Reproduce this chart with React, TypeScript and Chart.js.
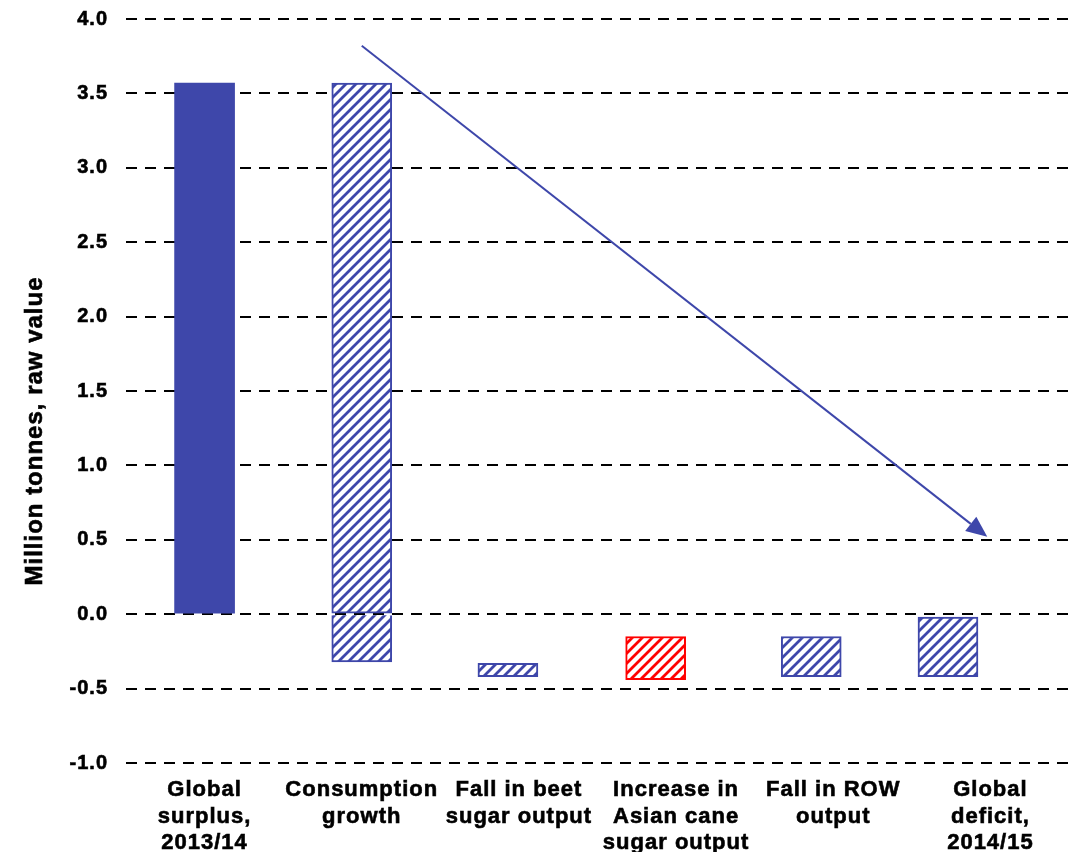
import React, { useEffect, useRef } from 'react';
import { Chart, registerables } from 'chart.js';

Chart.register(...registerables);

// ---- data ----
const categories: string[][] = [
  ['Global', 'surplus,', '2013/14'],
  ['Consumption', 'growth'],
  ['Fall in beet', 'sugar output'],
  ['Increase in', 'Asian cane', 'sugar output'],
  ['Fall in ROW', 'output'],
  ['Global', 'deficit,', '2014/15'],
];
// where each bar sits along the category axis (category index units)
const barPositions = [0, 1, 1.93, 2.87, 3.86, 4.73];
const barLows = [0, 0, -0.42, -0.44, -0.42, -0.42];
const barHighs = [3.57, 3.57, -0.33, -0.15, -0.15, -0.02];
const consumptionBelowZero = [-0.32, 0];
const yMin = -1.0;
const yMax = 4.0;
const yStep = 0.5;
const yTitle = 'Million tonnes, raw value';
const arrowFrom = { x: 1.0, y: 3.82 };
const arrowTo = { x: 4.98, y: 0.52 };

// ---- styles ----
const BLUE = '#3E47AA';
const RED = '#FF0000';
const FONT = 'Arial, "Liberation Sans", Helvetica, sans-serif';

function hatch(color: string): CanvasPattern | string {
  const c = document.createElement('canvas');
  c.width = 10;
  c.height = 10;
  const g = c.getContext('2d');
  if (!g) return color;
  g.fillStyle = '#ffffff';
  g.fillRect(0, 0, 10, 10);
  g.strokeStyle = color;
  g.lineWidth = 2.8;
  g.beginPath();
  g.moveTo(-2, 12);
  g.lineTo(12, -2);
  g.moveTo(-2, 2);
  g.lineTo(2, -2);
  g.moveTo(8, 12);
  g.lineTo(12, 8);
  g.stroke();
  return g.createPattern(c, 'repeat') || color;
}

export default function App() {
  const ref = useRef<HTMLCanvasElement | null>(null);

  useEffect(() => {
    document.body.style.margin = '0';
    const canvas = ref.current;
    if (!canvas) return;

    const blueHatch = hatch(BLUE);
    const redHatch = hatch(RED);
    const fills = [BLUE, blueHatch, blueHatch, redHatch, blueHatch, blueHatch];
    const borders = [BLUE, BLUE, BLUE, RED, BLUE, BLUE];
    const borderWidths = [0, 2, 2, 2, 2, 2];

    const spacingPlugin = {
      id: 'spacing',
      beforeDraw(chart: any) {
        chart.ctx.letterSpacing = '1px';
      },
      afterDraw(chart: any) {
        chart.ctx.letterSpacing = '0px';
      },
    };

    const titlePlugin = {
      id: 'ytitle',
      afterDraw(chart: any) {
        const { ctx, chartArea } = chart;
        ctx.save();
        ctx.letterSpacing = '1px';
        ctx.translate(35, (chartArea.top + chartArea.bottom) / 2 + 40);
        ctx.rotate(-Math.PI / 2);
        ctx.font = `bold 24px ${FONT}`;
        ctx.fillStyle = '#000';
        ctx.strokeStyle = '#000';
        ctx.lineWidth = 0.6;
        ctx.textAlign = 'center';
        ctx.textBaseline = 'middle';
        ctx.strokeText(yTitle, 0, 0);
        ctx.fillText(yTitle, 0, 0);
        ctx.restore();
      },
    };

    const arrowPlugin = {
      id: 'arrow',
      afterDatasetsDraw(chart: any) {
        const { ctx } = chart;
        const xs = chart.scales.x;
        const ys = chart.scales.y;
        const x1 = xs.getPixelForValue(arrowFrom.x);
        const y1 = ys.getPixelForValue(arrowFrom.y);
        const x2 = xs.getPixelForValue(arrowTo.x);
        const y2 = ys.getPixelForValue(arrowTo.y);
        const ang = Math.atan2(y2 - y1, x2 - x1);
        const headLen = 21;
        const headHalf = 9;
        const bx = x2 - headLen * Math.cos(ang);
        const by = y2 - headLen * Math.sin(ang);
        ctx.save();
        ctx.strokeStyle = BLUE;
        ctx.fillStyle = BLUE;
        ctx.lineWidth = 2;
        ctx.beginPath();
        ctx.moveTo(x1, y1);
        ctx.lineTo(bx, by);
        ctx.stroke();
        ctx.beginPath();
        ctx.moveTo(x2, y2);
        ctx.lineTo(bx + headHalf * Math.sin(ang), by - headHalf * Math.cos(ang));
        ctx.lineTo(bx - headHalf * Math.sin(ang), by + headHalf * Math.cos(ang));
        ctx.closePath();
        ctx.fill();
        ctx.restore();
      },
    };

    const chart = new Chart(canvas, {
      type: 'bar',
      data: {
        labels: categories as any,
        datasets: [
          {
            data: barPositions.map((x, i) => ({ x, y: [barLows[i], barHighs[i]] })) as any,
            backgroundColor: fills as any,
            borderColor: borders,
            borderWidth: borderWidths,
            borderSkipped: false,
            barThickness: 60,
            grouped: false,
            xAxisID: 'x',
            yAxisID: 'y',
          } as any,
          {
            data: [{ x: barPositions[1], y: consumptionBelowZero }] as any,
            backgroundColor: blueHatch as any,
            borderColor: BLUE,
            borderWidth: { top: 0, left: 2, right: 2, bottom: 2 },
            borderSkipped: false,
            barThickness: 60,
            grouped: false,
            xAxisID: 'x',
            yAxisID: 'y',
          } as any,
        ],
      },
      options: {
        responsive: false,
        animation: false,
        devicePixelRatio: 1,
        layout: { padding: { top: 19, left: 0, right: 0, bottom: 0 } },
        plugins: {
          legend: { display: false },
          tooltip: { enabled: false },
        },
        scales: {
          x: {
            type: 'linear',
            display: false,
            offset: false,
            grid: { offset: false },
            min: -0.5,
            max: 5.5,
          },
          xl: {
            type: 'category',
            position: 'bottom',
            offset: true,
            grid: { display: false, drawTicks: false },
            border: { display: false },
            ticks: {
              color: '#000',
              textStrokeColor: '#000',
              textStrokeWidth: 0.6,
              autoSkip: false,
              maxRotation: 0,
              minRotation: 0,
              padding: 14,
              font: { family: FONT, size: 22, weight: 'bold', lineHeight: 1.2 },
            },
            afterFit: (s: any) => {
              s.height = 89;
            },
          } as any,
          y: {
            type: 'linear',
            min: yMin,
            max: yMax,
            grid: { color: '#000', lineWidth: 2, drawTicks: false },
            border: { display: false, dash: [11, 8] },
            ticks: {
              stepSize: yStep,
              color: '#000',
              textStrokeColor: '#000',
              textStrokeWidth: 0.6,
              padding: 18,
              font: { family: FONT, size: 20, weight: 'bold' },
              callback: (v: any) => Number(v).toFixed(1),
            },
            afterFit: (s: any) => {
              s.width = 126;
              s.paddingTop = 0;
              s.paddingBottom = 0;
            },
          } as any,
        },
      },
      plugins: [spacingPlugin, titlePlugin, arrowPlugin],
    });

    return () => chart.destroy();
  }, []);

  return (
    <div style={{ width: 1069, height: 852, background: '#fff' }}>
      <canvas ref={ref} width={1069} height={852} style={{ display: 'block' }} />
    </div>
  );
}
